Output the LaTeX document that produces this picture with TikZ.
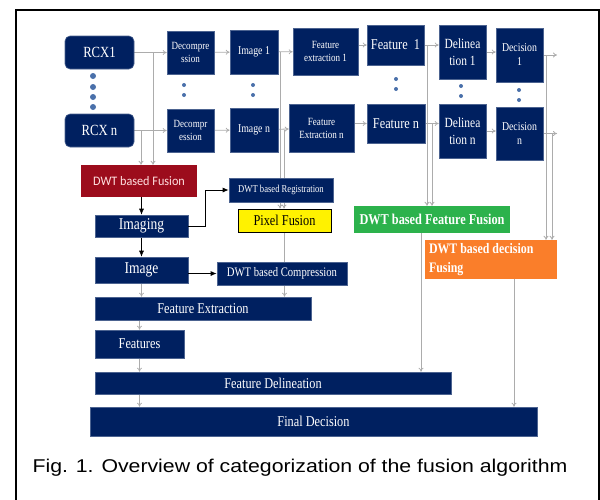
\documentclass[tikz,border=0pt]{standalone}
\usepackage{fontspec}
\setmainfont{Liberation Serif}[FakeStretch=0.82]
\newfontfamily\capfont{Liberation Sans}[FakeStretch=1.15]
\newfontfamily\calfont{Carlito}[FakeStretch=0.94]
\usetikzlibrary{arrows.meta,backgrounds}
\definecolor{navy}{RGB}{0,32,96}
\definecolor{wine}{RGB}{156,12,28}
\definecolor{leaf}{RGB}{44,178,76}
\definecolor{tangerine}{RGB}{250,126,42}
\definecolor{dotblue}{RGB}{74,112,170}
\begin{document}
\begin{tikzpicture}
	[x=1pt,y=-1pt,
	every node/.style={inner sep=1pt,align=center,text=white},
	blk/.style={fill=navy,draw=navy!70!white,line width=0.6pt},
	rcx/.style={blk,rounded corners=5pt,minimum width=69pt,minimum height=33pt,font=\fontsize{15.5}{17}\selectfont},
	f11/.style={font=\fontsize{11}{13}\selectfont},
	f12/.style={font=\fontsize{12}{14}\selectfont},
	f14/.style={font=\fontsize{14}{16.5}\selectfont},
	f15/.style={font=\fontsize{15}{17}\selectfont},
	f16/.style={font=\fontsize{16.5}{18}\selectfont},
	link/.style={draw=gray!65,line width=0.8pt,-{To[length=4pt,width=5pt]}},
	jump/.style={draw=black,line width=0.9pt,-{Latex[length=6pt,width=5pt]}}
	]
	\useasboundingbox (0,0) rectangle (600,499);
	\draw[line width=1.6pt] (16,10) rectangle (599,520);
	\node[rcx] (rcx1) at (99.5,52.5) {RCX1};
	\node[rcx] (rcxn) at (99.5,130.5) {RCX n};
	\node[blk,f11,minimum width=47pt,minimum height=43pt] (dec1) at (190.5,52.5) {Decompre\\ssion};
	\node[blk,f11,minimum width=47pt,minimum height=43pt] (decn) at (190.5,130.5) {Decompr\\ession};
	\node[blk,f12,minimum width=48pt,minimum height=44pt] (img1) at (254,52) {Image 1};
	\node[blk,f12,minimum width=48pt,minimum height=44pt] (imgn) at (254,130) {Image n};
	\node[blk,f11,minimum width=65pt,minimum height=47pt] (fe1) at (325.5,51.5) {Feature\\extraction 1};
	\node[blk,f11,minimum width=65pt,minimum height=48pt] (fen) at (321.5,128) {Feature\\Extraction n};
	\node[blk,f15,minimum width=57pt,minimum height=40pt] (ft1) at (395.5,45) {Feature~~1};
	\node[blk,f15,minimum width=58pt,minimum height=39pt] (ftn) at (396,123.5) {Feature n};
	\node[blk,f14,minimum width=47pt,minimum height=54pt] (del1) at (462.5,52) {Delinea\\tion 1};
	\node[blk,f14,minimum width=47pt,minimum height=54pt] (deln) at (462.5,131) {Delinea\\tion n};
	\node[blk,f12,minimum width=47pt,minimum height=54pt] (dcs1) at (519.5,55) {Decision\\1};
	\node[blk,f12,minimum width=47pt,minimum height=53pt] (dcsn) at (519.5,133.5) {Decision\\n};
	\coordinate (dout1) at (557,55);
	\coordinate (doutn) at (557,133.5);
	\foreach \y in {76,87,97,107}
		\fill[dotblue] (93,\y) circle[radius=3pt];
	\foreach \x/\y in {184/85,184/95,253/85,253/95,396/79,396/89,461/86,461/96,519/90,519/100}
		\fill[dotblue] (\x,\y) circle[radius=2pt];
	\node[fill=wine,minimum width=116pt,minimum height=32pt,text=white!88!red,font=\calfont\fontsize{13}{15}\selectfont] (fusion) at (139,181) {DWT based Fusion};
	\node[blk,f16,minimum width=93pt,minimum height=22pt] (imaging) at (141.5,226) {Imaging};
	\node[blk,f16,minimum width=93pt,minimum height=26pt] (image) at (141.5,270) {Image};
	\node[blk,f15,minimum width=216pt,minimum height=23pt] (featext) at (203,308.5) {Feature Extraction};
	\node[blk,f15,minimum width=89pt,minimum height=28pt] (features) at (139.5,344) {Features};
	\node[blk,f15,minimum width=356pt,minimum height=22pt] (featdel) at (273,383) {Feature Delineation};
	\node[blk,f15,minimum width=447pt,minimum height=29pt] (final) at (313.5,421.5) {Final Decision};
	\node[blk,minimum width=104pt,minimum height=24pt,font=\fontsize{10.5}{12}\selectfont] (reg) at (281,190) {DWT based Registration};
	\node[fill=yellow,draw=black,line width=1pt,text=black,minimum width=93pt,minimum height=23pt,f15] (pix) at (284.5,220.5) {Pixel Fusion};
	\node[blk,minimum width=130pt,minimum height=23pt,font=\fontsize{13}{15}\selectfont] (comp) at (282,273.5) {DWT based Compression};
	\node[fill=leaf,minimum width=156pt,minimum height=27pt,font=\bfseries\fontsize{15}{17}\selectfont] (featfus) at (432,219.5) {DWT based Feature Fusion};
	\node[fill=tangerine,minimum width=132pt,minimum height=39pt,inner xsep=4pt,text width=124pt,align=flush left,font=\bfseries\fontsize{14.5}{19}\selectfont] (decfus) at (491,259.5) {DWT based decision\\Fusing};
	\node[text=black,font=\capfont\fontsize{18.5}{22}\selectfont] (cap) at (300,468) {Fig. 1. Overview of categorization of the fusion algorithm};
	\begin{scope}[on background layer]
		\draw[link] (rcx1) -- (dec1);
		\draw[link] (dec1) -- (img1);
		\draw[link] (img1) -- (fe1);
		\draw[link] (ft1 -| fe1.east) -- (ft1.west);
		\draw[link] (ft1.east) -- (ft1.east -| del1.west);
		\draw[link] (del1.east) -- (del1.east -| dcs1.west);
		\draw[link] (dcs1.east) -- (dout1);
		\draw[link] (rcxn) -- (decn);
		\draw[link] (decn) -- (imgn);
		\draw[link] (imgn) -- (fen);
		\draw[link] (ftn -| fen.east) -- (ftn.west);
		\draw[link] (ftn.east) -- (ftn.east -| deln.west);
		\draw[link] (deln.east) -- (deln.east -| dcsn.west);
		\draw[link] (dcsn.east) -- (doutn);
		\draw[link] (153,52.5) -- (153,0 |- fusion.north);
		\draw[link] (141,130.5) -- (141,0 |- fusion.north);
		\draw[link] (280,52) -- (280,0 |- pix.north);
		\draw[link] (284,130) -- (284,0 |- pix.north);
		\draw[link] (427,46) -- (427,0 |- featfus.north);
		\draw[link] (432,124) -- (432,0 |- featfus.north);
		\draw[link] (546,55) -- (546,0 |- decfus.north);
		\draw[link] (552,133.5) -- (552,0 |- decfus.north);
		\draw[jump,line width=0.6pt] (fusion.south -| imaging.north) -- (imaging.north);
		\draw[jump,line width=0.6pt] (imaging) -- (image);
		\draw[link] (image.south) -- (image.south |- featext.north);
		\draw[link] (features.north |- featext.south) -- (features.north);
		\draw[link] (features.south) -- (features.south |- featdel.north);
		\draw[link] (features.south |- featdel.south) -- (features.south |- final.north);
		\draw[link] (pix.south) -- (pix.south |- featext.north);
		\draw[link] ([xshift=-11pt]featfus.south) -- ([xshift=-11pt]featfus.south |- featdel.north);
		\draw[link] ([xshift=23pt]decfus.south) -- ([xshift=23pt]decfus.south |- final.north);
	\end{scope}
	\draw[jump] (imaging.east) -- ++(17,0) |- (reg.west);
	\draw[jump] (comp.west -| image.east) -- (comp.west);
\end{tikzpicture}
\end{document}
